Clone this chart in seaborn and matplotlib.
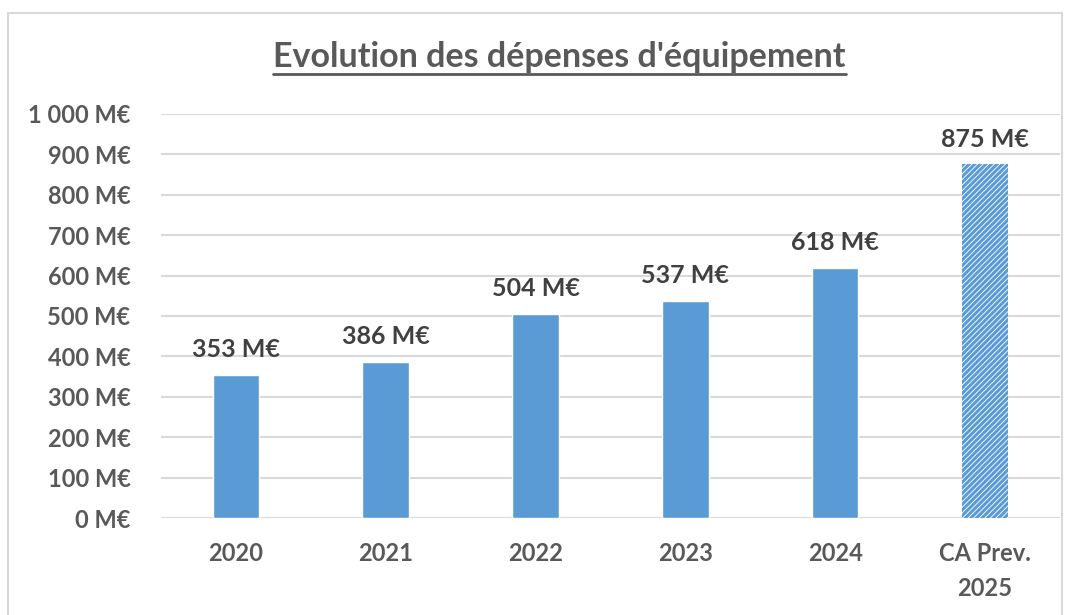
import pandas as pd
import matplotlib.pyplot as plt
import seaborn as sns
import matplotlib.ticker as mtick
from matplotlib.patches import Rectangle
from matplotlib.lines import Line2D

# Data
categories = ['2020', '2021', '2022', '2023', '2024', 'CA Prev.\n2025']
values = [353, 386, 504, 537, 618, 875]
labels = ['353 M€', '386 M€', '504 M€', '537 M€', '618 M€', '875 M€']

df = pd.DataFrame({'cat': categories, 'val': values})

blue = '#5b9bd5'
grey_txt = '#595959'

sns.set_style('white')
plt.rcParams['font.family'] = ['Lato', 'DejaVu Sans']
plt.rcParams['hatch.linewidth'] = 2.2
plt.rcParams['hatch.color'] = blue

fig = plt.figure(figsize=(10.77, 6.15), dpi=100)
ax = fig.add_axes([0.1495, 0.1577, 0.8345, 0.657])

sns.barplot(data=df, x='cat', y='val', color=blue, width=0.31,
            saturation=1, ax=ax, zorder=3)

# last bar is a forecast: hatched
last = ax.patches[-1]
last.set_facecolor('white')
last.set_edgecolor(blue)
last.set_hatch('//////')
last.set_linewidth(0)

for p, lab in zip(ax.patches, labels):
    ax.annotate(lab, (p.get_x() + p.get_width() / 2, p.get_height()),
                xytext=(0, 10), textcoords='offset points', ha='center',
                va='bottom', fontsize=18, fontweight='bold', color='#404040')

ax.set_ylim(0, 1000)
ax.set_xlim(-0.5, 5.5)
ax.set_yticks(range(0, 1001, 100))
ax.yaxis.set_major_formatter(mtick.FuncFormatter(
    lambda v, _: f"{int(v):,} M€".replace(',', ' ')))
ax.grid(axis='y', color='#d9d9d9', linewidth=1.5, zorder=0)
ax.set_axisbelow(True)
sns.despine(ax=ax, left=True, bottom=True)
ax.tick_params(axis='both', length=0, labelsize=17, labelcolor=grey_txt)
ax.tick_params(axis='y', pad=22)
ax.tick_params(axis='x', pad=17)
for t in ax.get_xticklabels() + ax.get_yticklabels():
    t.set_fontweight('bold')
for t in ax.get_xticklabels():
    t.set_linespacing(1.65)
ax.set_xlabel('')
ax.set_ylabel('')

# title with underline
title = fig.text(0.5195, 0.907, "Evolution des dépenses d'équipement",
                 ha='center', va='center', fontsize=24.5, fontweight='bold',
                 color=grey_txt)
fig.canvas.draw()
bb = title.get_window_extent().transformed(fig.transFigure.inverted())
fig.add_artist(Line2D([bb.x0, bb.x1], [bb.y0 - 0.002, bb.y0 - 0.002],
                      transform=fig.transFigure, color=grey_txt, linewidth=2))

# chart area border
fig.add_artist(Rectangle((8 / 1077, -0.01), 1054 / 1077, 1 - 13 / 615 + 0.01,
                         transform=fig.transFigure, fill=False,
                         edgecolor='#d9d9d9', linewidth=1.5))

fig.savefig('out.png', dpi=100)
